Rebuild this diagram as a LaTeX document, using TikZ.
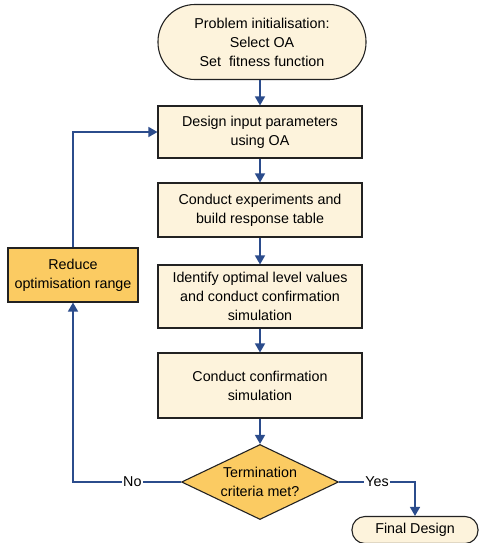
\documentclass[tikz,border=0pt]{standalone}
\usepackage{fontspec}
\setmainfont{Liberation Sans}
\usetikzlibrary{shapes.geometric,arrows.meta}
\definecolor{cream}{HTML}{FDF3DC}
\definecolor{gold}{HTML}{FBCB62}
\definecolor{linkblue}{HTML}{2B4C8C}
\definecolor{edge}{HTML}{222222}
\begin{document}
\begin{tikzpicture}[x=1pt,y=-1pt,
  every node/.style={font=\fontsize{14.3}{19}\selectfont, align=center, inner sep=0pt},
  procbox/.style={draw=edge, line width=1.1pt, fill=cream, minimum width=204pt},
  termbox/.style={draw=edge, line width=1.1pt, fill=cream, rounded corners=#1},
  goldbox/.style={draw=edge, line width=1.1pt, fill=gold},
  flow/.style={draw=linkblue, line width=1.5pt, -{Triangle[length=9pt,width=10pt]}},
  plain/.style={draw=linkblue, line width=1.5pt}]
\useasboundingbox (0,0) rectangle (479,543);
\node[termbox=37pt, minimum width=208pt, minimum height=75pt] (start) at (262,42) {Problem initialisation:\\Select OA\\Set\ \ fitness function};
\node[procbox, minimum height=52pt] (b1) at (260,132) {Design input parameters\\using OA};
\node[procbox, minimum height=54pt] (b2) at (260,210) {Conduct experiments and\\build response table};
\node[procbox, minimum height=63pt] (b3) at (260,296.5) {Identify optimal level values\\and conduct confirmation\\simulation};
\node[procbox, minimum height=65pt] (b4) at (260,385.5) {Conduct confirmation\\simulation};
\node[draw=edge, line width=1.1pt, fill=gold, diamond, minimum width=157pt, minimum height=75pt, inner sep=0pt] (dec) at (260,482) {};
\node at (260,482) {Termination\\criteria met?};
\node[goldbox, minimum width=130pt, minimum height=54pt] (red) at (73,275) {Reduce\\optimisation range};
\node[termbox=13pt, minimum width=126pt, minimum height=27pt] (fin) at (415,530) {Final Design};
\draw[flow] (start.south -| b1.north) -- (b1);
\draw[flow] (b1) -- (b2);
\draw[flow] (b2) -- (b3);
\draw[flow] (b3) -- (b4);
\draw[flow] (b4) -- (dec);
\coordinate (ycorner) at (fin.north |- dec.east);
\draw[flow] (dec.east) -- node[fill=white, inner xsep=1pt] {Yes} (ycorner) -- (fin.north);
\coordinate (ncorner) at (red.south |- dec.west);
\draw[flow] (dec.west) -- node[fill=white, inner xsep=1pt, pos=0.45] {No} (ncorner) -- (red.south);
\coordinate (tcorner) at (red.north |- b1.west);
\draw[flow] (red.north) -- (tcorner) -- (b1.west);
\end{tikzpicture}
\end{document}
